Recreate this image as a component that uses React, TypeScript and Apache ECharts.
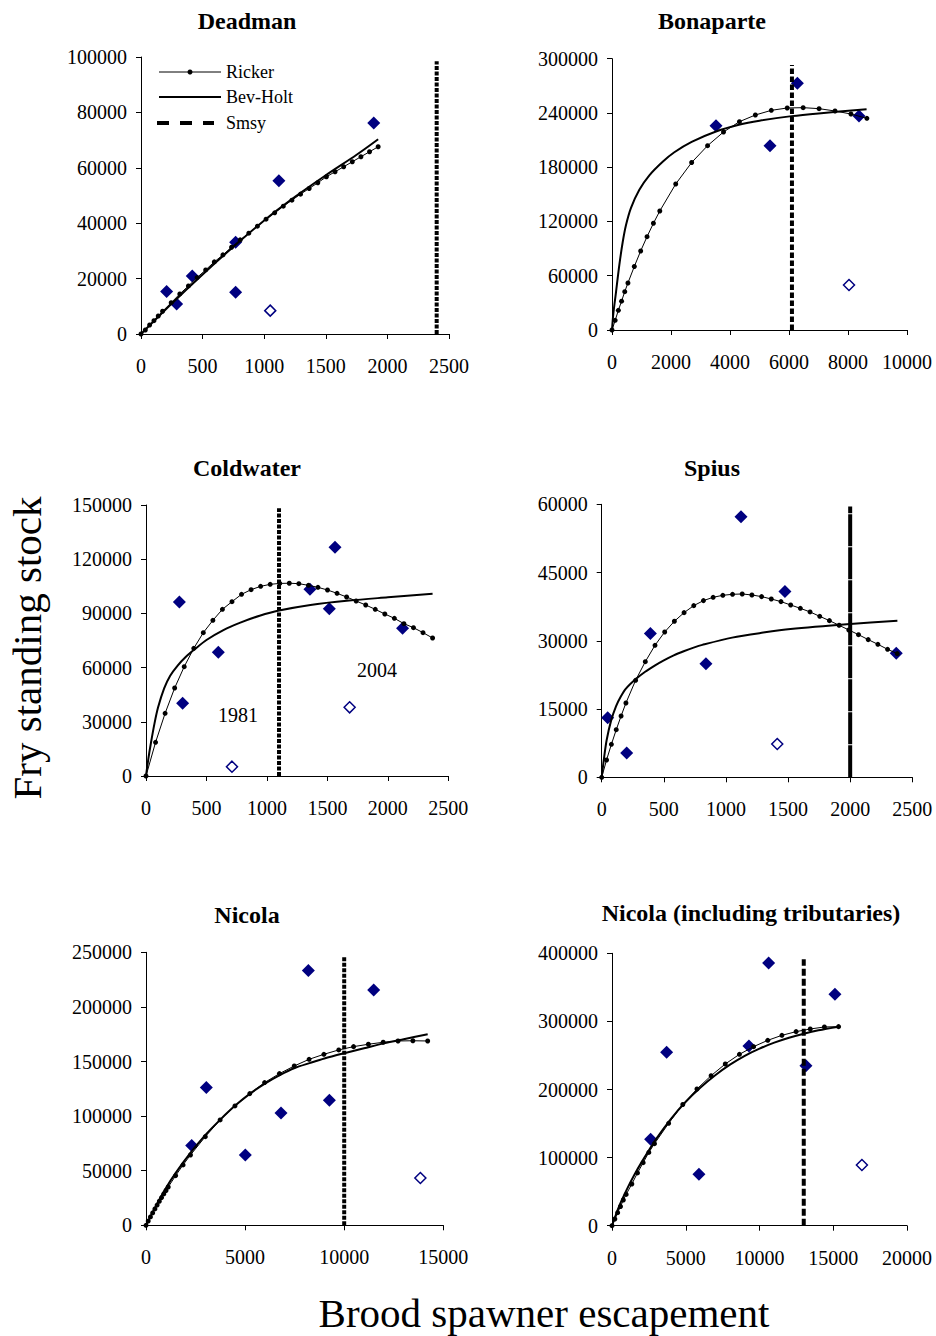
import { useEffect, useRef } from "react";
import * as echarts from "echarts";

// ---------- Deadman ----------
const dmObsX = [208, 289, 416, 768, 768, 1119, 1889];
const dmObsY = [15300, 10850, 20970, 33140, 15060, 55300, 76150];
const dmOutX = [1049];
const dmOutY = [8435];
const dmRickerX = [0, 35, 70, 105, 140, 175, 245, 315, 385, 455, 525, 595, 665, 735, 805, 875, 945, 1015, 1085, 1155, 1225, 1295, 1365, 1435, 1505, 1575, 1645, 1715, 1785, 1855, 1925];
const dmRickerY = [0, 1450, 3250, 4800, 6500, 8200, 11300, 14460, 17350, 20360, 23140, 26030, 28560, 31330, 33980, 36390, 38920, 41450, 43740, 46150, 48320, 50490, 52540, 54590, 56760, 58560, 60370, 62180, 63990, 65790, 67600];
const dmBhX = [0, 250, 500, 750, 1000, 1250, 1500, 1750, 1925];
const dmBhY = [0, 11000, 21500, 31500, 41000, 49500, 57300, 64700, 70300];
const dmSmsy = [2400, 98500];

// ---------- Bonaparte ----------
const bpObsX = [3525, 5356, 6283, 8373];
const bpObsY = [225950, 203840, 272760, 236640];
const bpOutX = [8034];
const bpOutY = [49760];
const bpRickerX = [0, 108, 216, 324, 432, 540, 756, 972, 1188, 1404, 1620, 2160, 2700, 3240, 3780, 4320, 4860, 5400, 5940, 6480, 7020, 7560, 8100, 8640];
const bpRickerY = [0, 10700, 21750, 31900, 42400, 52000, 70200, 87400, 103200, 118000, 131600, 161450, 185200, 203840, 218950, 230380, 237750, 242910, 245490, 245860, 244750, 242170, 238850, 234060];
const bpBhX = [0, 45, 136, 249, 362, 475, 644, 927, 1266, 1718, 2113, 2700, 3525, 4300, 5000, 6090, 7000, 8630];
const bpBhY = [0, 18000, 42000, 72000, 97000, 116000, 135000, 155000, 171000, 186000, 196500, 208000, 219500, 227000, 231500, 236500, 239500, 244000];
const bpSmsy = [6100, 293000];

// ---------- Coldwater ----------
const cwObsX = [276, 303, 598, 1356, 1516, 1563, 2122];
const cwObsY = [96310, 40220, 68450, 103320, 92620, 126570, 81730];
const cwOutX = [711, 1684];
const cwOutY = [5170, 38010];
const cwRickerX = [0, 79, 158, 237, 316, 395, 474, 553, 632, 711, 790, 869, 948, 1027, 1106, 1185, 1264, 1343, 1422, 1501, 1580, 1659, 1738, 1817, 1896, 1975, 2054, 2133, 2212, 2291, 2370];
const cwRickerY = [0, 18630, 34690, 48710, 60520, 70660, 79340, 86160, 92250, 96490, 100550, 103140, 104980, 106090, 106600, 106700, 106460, 105530, 104430, 102950, 101110, 99080, 96860, 94650, 92250, 89670, 87270, 84320, 82100, 79340, 76380];
const cwBhX = [0, 20, 40, 70, 100, 150, 200, 260, 330, 400, 500, 640, 780, 940, 1100, 1360, 1680, 2000, 2370];
const cwBhY = [0, 9800, 18000, 29000, 38000, 48500, 55500, 61000, 66000, 70000, 75300, 80800, 84900, 88700, 91600, 94700, 97100, 98900, 100900];
const cwSmsy = [1100, 148200];

// ---------- Spius ----------
const spObsX = [48, 201, 392, 839, 1121, 1475, 2371];
const spObsY = [13110, 5350, 31580, 24980, 57290, 40810, 27250];
const spOutX = [1413];
const spOutY = [7330];
const spRickerX = [0, 39, 78, 117, 156, 195, 273, 351, 429, 507, 585, 663, 741, 819, 897, 975, 1053, 1131, 1209, 1287, 1365, 1443, 1521, 1599, 1677, 1755, 1833, 1911, 1989, 2067, 2145, 2223, 2301, 2379];
const spRickerY = [0, 3800, 7250, 10460, 13470, 16330, 21320, 25410, 29010, 31940, 34290, 36190, 37730, 38830, 39560, 40000, 40220, 40290, 40070, 39710, 39190, 38610, 37870, 37140, 36340, 35380, 34430, 33410, 32380, 31350, 30260, 29230, 28130, 27180];
const spBhX = [0, 20, 40, 75, 115, 155, 195, 270, 350, 430, 500, 580, 660, 740, 810, 1050, 1300, 1520, 2000, 2380];
const spBhY = [0, 4500, 8200, 12400, 15600, 17800, 19500, 21500, 23200, 24600, 25700, 26800, 27700, 28500, 29100, 30700, 31800, 32600, 33700, 34400];
const spSmsy = [2000, 59500];

// ---------- Nicola ----------
const nkObsX = [2304, 3044, 5012, 6812, 8191, 9251, 11488];
const nkObsY = [72970, 126090, 64420, 102890, 233250, 114490, 215540];
const nkOutX = [13843];
const nkOutY = [43350];
const nkRickerX = [0, 112, 224, 337, 449, 561, 673, 785, 898, 1010, 1122, 1496, 1870, 2244, 2992, 3740, 4488, 5236, 5984, 6732, 7480, 8228, 8976, 9724, 10472, 11220, 11968, 12716, 13464, 14212];
const nkRickerY = [0, 3850, 7650, 11350, 15000, 18550, 22000, 25400, 28700, 31900, 35100, 45500, 55300, 64400, 81200, 96500, 109300, 120600, 130700, 138900, 145900, 152000, 156600, 160600, 163600, 165800, 167600, 168800, 169000, 168800];
const nkBhX = [0, 500, 1000, 1500, 2250, 3000, 3750, 4500, 5250, 6000, 6750, 7500, 8250, 9000, 10000, 11000, 12000, 13000, 14212];
const nkBhY = [0, 17800, 34000, 48000, 66500, 82800, 96800, 109600, 120600, 129700, 137500, 144000, 148500, 152800, 157600, 162100, 166600, 170400, 174900];
const nkSmsy = [10000, 246600];

// ---------- Nicola (including tributaries) ----------
const ntObsX = [2620, 3705, 5896, 9285, 10617, 13147, 15113];
const ntObsY = [126800, 254600, 75400, 263900, 385800, 235000, 339800];
const ntOutX = [16943];
const ntOutY = [89100];
const ntRickerX = [0, 192, 384, 576, 768, 960, 1344, 1728, 2112, 2496, 2880, 3840, 4800, 5760, 6720, 7680, 8640, 9600, 10560, 11520, 12480, 13440, 14400, 15360];
const ntRickerY = [0, 9800, 19100, 28200, 37700, 45900, 61200, 77500, 92500, 107600, 120500, 150300, 178000, 200740, 220320, 237460, 251650, 262920, 272220, 279560, 284950, 288860, 291800, 292290];
const ntBhX = [0, 500, 1000, 1500, 2000, 3000, 4000, 5000, 6000, 7000, 8000, 9000, 10000, 11000, 12000, 13000, 14000, 15360];
const ntBhY = [0, 29500, 53000, 74000, 93000, 127500, 157000, 182000, 203000, 221000, 236500, 249500, 260000, 268800, 276000, 282000, 287000, 292300];
const ntSmsy = [13000, 391300];

const titles = ["Deadman", "Bonaparte", "Coldwater", "Spius", "Nicola", "Nicola (including tributaries)"];

const FONT = '"Liberation Serif", "Times New Roman", serif';
const NAVY = "#000080";

const pair = (xs: number[], ys: number[]) => xs.map((x, i) => [x, ys[i]]);

const panels = [
  { grid: { left: 141, top: 57, width: 308, height: 277 }, xMax: 2500, xInt: 500, yMax: 100000, yInt: 20000,
    obs: pair(dmObsX, dmObsY), out: pair(dmOutX, dmOutY), r: pair(dmRickerX, dmRickerY), b: pair(dmBhX, dmBhY), s: dmSmsy, dash: [4, 1.5], title: [247, 21] },
  { grid: { left: 612, top: 58.7, width: 295, height: 271.3 }, xMax: 10000, xInt: 2000, yMax: 300000, yInt: 60000,
    obs: pair(bpObsX, bpObsY), out: pair(bpOutX, bpOutY), r: pair(bpRickerX, bpRickerY), b: pair(bpBhX, bpBhY), s: bpSmsy, dash: [5.5, 2.5], title: [712, 21] },
  { grid: { left: 146, top: 505, width: 302.3, height: 271 }, xMax: 2500, xInt: 500, yMax: 150000, yInt: 30000,
    obs: pair(cwObsX, cwObsY), out: pair(cwOutX, cwOutY), r: pair(cwRickerX, cwRickerY), b: pair(cwBhX, cwBhY), s: cwSmsy, dash: [4, 1.5], title: [247, 468] },
  { grid: { left: 601.7, top: 504.3, width: 310.6, height: 273 }, xMax: 2500, xInt: 500, yMax: 60000, yInt: 15000,
    obs: pair(spObsX, spObsY), out: pair(spOutX, spOutY), r: pair(spRickerX, spRickerY), b: pair(spBhX, spBhY), s: spSmsy, dash: [32, 1], title: [712, 468] },
  { grid: { left: 146, top: 952.3, width: 297.3, height: 273 }, xMax: 15000, xInt: 5000, yMax: 250000, yInt: 50000,
    obs: pair(nkObsX, nkObsY), out: pair(nkOutX, nkOutY), r: pair(nkRickerX, nkRickerY), b: pair(nkBhX, nkBhY), s: nkSmsy, dash: [4, 1.5], title: [247, 915] },
  { grid: { left: 612, top: 953.3, width: 295, height: 272.4 }, xMax: 20000, xInt: 5000, yMax: 400000, yInt: 100000,
    obs: pair(ntObsX, ntObsY), out: pair(ntOutX, ntOutY), r: pair(ntRickerX, ntRickerY), b: pair(ntBhX, ntBhY), s: ntSmsy, dash: [7, 3], title: [751, 913] },
];

export default function App() {
  const ref = useRef<HTMLDivElement>(null);
  useEffect(() => {
    document.body.style.margin = "0";
    const chart = echarts.init(ref.current!, null, { renderer: "svg" });
    const axisCommon = {
      type: "value",
      min: 0,
      axisLine: { show: true, onZero: false, lineStyle: { color: "#000", width: 1 } },
      axisTick: { show: true, length: 5, lineStyle: { color: "#000", width: 1 } },
      splitLine: { show: false },
    };
    const grids: any[] = [];
    const xAxes: any[] = [];
    const yAxes: any[] = [];
    const series: any[] = [];
    const graphics: any[] = [];
    panels.forEach((p, i) => {
      grids.push({ ...p.grid, containLabel: false });
      xAxes.push({
        ...axisCommon, gridIndex: i, max: p.xMax, interval: p.xInt,
        axisLabel: { fontFamily: FONT, fontSize: 20, color: "#000", margin: 22, formatter: (v: number) => String(v) },
      });
      yAxes.push({
        ...axisCommon, gridIndex: i, max: p.yMax, interval: p.yInt,
        axisLabel: { fontFamily: FONT, fontSize: 20, color: "#000", margin: 14, formatter: (v: number) => String(v) },
      });
      series.push({
        type: "scatter", xAxisIndex: i, yAxisIndex: i, data: p.obs, symbol: "diamond", symbolSize: [13, 13],
        itemStyle: { color: NAVY, opacity: 1 }, silent: true,
      });
      series.push({
        type: "scatter", xAxisIndex: i, yAxisIndex: i, data: p.out, symbol: "diamond", symbolSize: [11, 11],
        itemStyle: { color: "#fff", borderColor: NAVY, borderWidth: 1.5, opacity: 1 }, silent: true,
      });
      series.push({
        type: "line", xAxisIndex: i, yAxisIndex: i, data: p.b, showSymbol: false, smooth: 0.3,
        lineStyle: { color: "#000", width: 2 }, silent: true,
      });
      series.push({
        type: "line", xAxisIndex: i, yAxisIndex: i, data: p.r, symbol: "circle", symbolSize: 5, showSymbol: true,
        lineStyle: { color: "#000", width: 1 }, itemStyle: { color: "#000" }, silent: true,
      });
      series.push({
        type: "line", xAxisIndex: i, yAxisIndex: i, data: [[p.s[0], 0], [p.s[0], p.s[1]]], showSymbol: false,
        lineStyle: { color: "#000", width: 4, type: p.dash }, silent: true,
      });
      graphics.push({
        type: "text", x: p.title[0], y: p.title[1],
        style: { text: titles[i], fontFamily: FONT, fontSize: 24, fontWeight: "bold", fill: "#000", textAlign: "center", textVerticalAlign: "middle" },
      });
    });

    // legend (Deadman panel)
    graphics.push({ type: "line", shape: { x1: 159, y1: 72, x2: 221, y2: 72 }, style: { stroke: "#000", lineWidth: 1 } });
    graphics.push({ type: "circle", shape: { cx: 190, cy: 72, r: 2.5 }, style: { fill: "#000" } });
    graphics.push({ type: "line", shape: { x1: 159, y1: 97, x2: 221, y2: 97 }, style: { stroke: "#000", lineWidth: 2 } });
    graphics.push({ type: "line", shape: { x1: 157, y1: 123, x2: 214, y2: 123 }, style: { stroke: "#000", lineWidth: 4, lineDash: [12, 11] } });
    const legendNames = ["Ricker", "Bev-Holt", "Smsy"];
    [72, 97, 123].forEach((y, k) => {
      graphics.push({
        type: "text", x: 226, y,
        style: { text: legendNames[k], fontFamily: FONT, fontSize: 18, fill: "#000", textAlign: "left", textVerticalAlign: "middle" },
      });
    });

    // annotations
    graphics.push({ type: "text", x: 238, y: 715, style: { text: "1981", fontFamily: FONT, fontSize: 20, fill: "#000", textAlign: "center", textVerticalAlign: "middle" } });
    graphics.push({ type: "text", x: 377, y: 670, style: { text: "2004", fontFamily: FONT, fontSize: 20, fill: "#000", textAlign: "center", textVerticalAlign: "middle" } });

    // axis names
    graphics.push({
      type: "text", x: 27, y: 648, rotation: Math.PI / 2,
      style: { text: "Fry standing stock", fontFamily: FONT, fontSize: 41, fill: "#000", textAlign: "center", textVerticalAlign: "middle" },
    });
    graphics.push({
      type: "text", x: 544, y: 1313,
      style: { text: "Brood spawner escapement", fontFamily: FONT, fontSize: 41, fill: "#000", textAlign: "center", textVerticalAlign: "middle" },
    });

    chart.setOption({
      animation: false,
      backgroundColor: "#fff",
      grid: grids,
      xAxis: xAxes,
      yAxis: yAxes,
      series,
      graphic: graphics,
    });
    return () => chart.dispose();
  }, []);
  return <div ref={ref} style={{ width: 936, height: 1336 }} />;
}
